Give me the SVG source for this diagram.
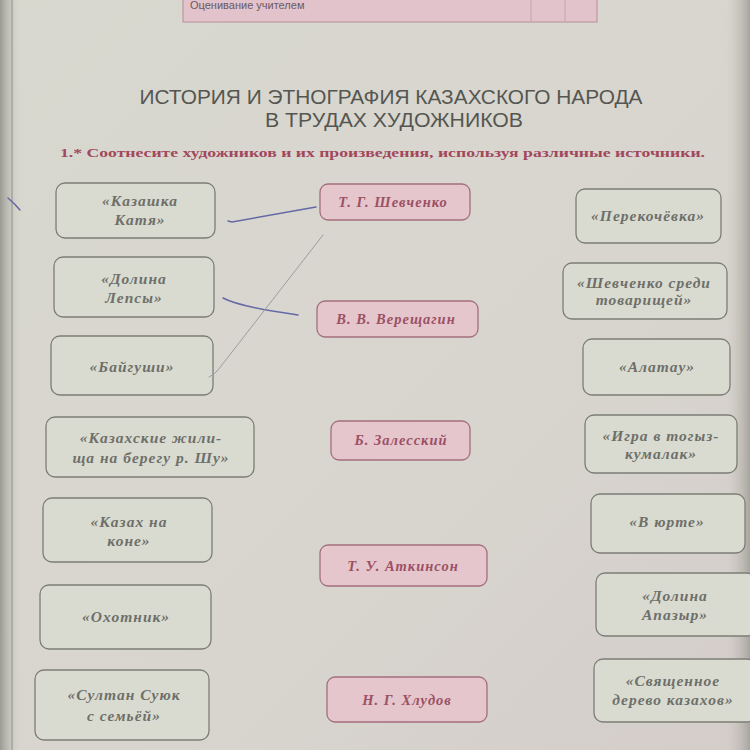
<svg xmlns="http://www.w3.org/2000/svg" width="750" height="750" viewBox="0 0 750 750">
<defs>
<linearGradient id="bg" x1="0" y1="0" x2="1" y2="1">
<stop offset="0" stop-color="#d8d8cf"/>
<stop offset="0.6" stop-color="#d8d5ce"/>
<stop offset="1" stop-color="#d4cdca"/>
</linearGradient>
<linearGradient id="edgeL" x1="0" y1="0" x2="1" y2="0">
<stop offset="0" stop-color="#9a9a92"/>
<stop offset="1" stop-color="#d6d6ce" stop-opacity="0"/>
</linearGradient>
<linearGradient id="edgeR" x1="0" y1="0" x2="1" y2="0">
<stop offset="0" stop-color="#d0ccc6" stop-opacity="0"/>
<stop offset="1" stop-color="#a8a49e"/>
</linearGradient>
</defs>
<style>
.work{fill:#d9dbd0;stroke:#7c7e76;stroke-width:1.3}
.artist{fill:#e4c6cc;stroke:#a46f7c;stroke-width:1.3}
.wt{font-family:"Liberation Serif",serif;font-style:italic;font-weight:bold;font-size:15.5px;letter-spacing:1px;fill:#6e6f6a;text-anchor:middle}
.at{font-family:"Liberation Serif",serif;font-style:italic;font-weight:bold;font-size:14.5px;letter-spacing:1px;fill:#9c5064;text-anchor:middle}
.pen{fill:none;stroke:#6668a6;stroke-width:1.5;stroke-linecap:round}
.pencil{fill:none;stroke:#9c9ca0;stroke-width:1;stroke-linecap:round}
</style>
<rect width="750" height="750" fill="url(#bg)"/>
<rect x="0" y="0" width="22" height="750" fill="url(#edgeL)"/>
<line x1="12" y1="0" x2="12" y2="750" stroke="#8e9088" stroke-width="1"/>
<rect x="725" y="0" width="25" height="750" fill="url(#edgeR)"/>

<g id="top-table">
<rect x="183" y="-4" width="414" height="26" fill="#e2c3cb" stroke="#b88c98" stroke-width="1"/>
<line x1="531" y1="-4" x2="531" y2="22" stroke="#c8a2ad" stroke-width="1"/>
<line x1="565" y1="-4" x2="565" y2="22" stroke="#c8a2ad" stroke-width="1"/>
<text x="190" y="9" font-family="Liberation Sans, sans-serif" font-size="11" fill="#6a5a60">Оценивание учителем</text>
</g>

<g id="title">
<text x="391" y="104" font-family="Liberation Sans, sans-serif" font-size="20" fill="#555651" text-anchor="middle" textLength="503" lengthAdjust="spacingAndGlyphs">ИСТОРИЯ И ЭТНОГРАФИЯ КАЗАХСКОГО НАРОДА</text>
<text x="394" y="127" font-family="Liberation Sans, sans-serif" font-size="20" fill="#555651" text-anchor="middle" textLength="258" lengthAdjust="spacingAndGlyphs">В ТРУДАХ ХУДОЖНИКОВ</text>
<text x="60" y="157" font-family="Liberation Serif, serif" font-weight="bold" font-size="13.5" fill="#a2485c" textLength="645" lengthAdjust="spacingAndGlyphs">1.* Соотнесите художников и их произведения, используя различные источники.</text>
</g>

<g id="w-kazashka"><rect class="work" x="56" y="183" width="159" height="55" rx="9"/><text class="wt" x="140" y="206">«Казашка</text><text class="wt" x="140" y="225">Катя»</text></g>
<g id="w-dolina-lepsy"><rect class="work" x="54" y="257" width="160" height="60" rx="9"/><text class="wt" x="134" y="284">«Долина</text><text class="wt" x="134" y="303">Лепсы»</text></g>
<g id="w-baygushi"><rect class="work" x="51" y="336" width="162" height="59" rx="9"/><text class="wt" x="132" y="372">«Байгуши»</text></g>
<g id="w-zhilishcha"><rect class="work" x="46" y="417" width="208" height="60" rx="9"/><text class="wt" x="151" y="443">«Казахские жили-</text><text class="wt" x="151" y="463">ща на берегу р. Шу»</text></g>
<g id="w-kazakh-na-kone"><rect class="work" x="43" y="498" width="169" height="64" rx="9"/><text class="wt" x="129" y="527">«Казах на</text><text class="wt" x="129" y="546">коне»</text></g>
<g id="w-okhotnik"><rect class="work" x="40" y="585" width="171" height="64" rx="9"/><text class="wt" x="126" y="622">«Охотник»</text></g>
<g id="w-sultan"><rect class="work" x="35" y="670" width="174" height="70" rx="9"/><text class="wt" x="124" y="700">«Султан Суюк</text><text class="wt" x="124" y="721">с семьёй»</text></g>

<g id="a-shevchenko"><rect class="artist" x="320" y="184" width="150" height="36" rx="8"/><text class="at" x="393" y="207">Т. Г. Шевченко</text></g>
<g id="a-vereshchagin"><rect class="artist" x="317" y="301" width="161" height="36" rx="8"/><text class="at" x="396" y="324">В. В. Верещагин</text></g>
<g id="a-zalessky"><rect class="artist" x="331" y="421" width="139" height="39" rx="8"/><text class="at" x="401" y="445">Б. Залесский</text></g>
<g id="a-atkinson"><rect class="artist" x="320" y="545" width="167" height="41" rx="8"/><text class="at" x="403" y="571">Т. У. Аткинсон</text></g>
<g id="a-khludov"><rect class="artist" x="327" y="677" width="160" height="45" rx="8"/><text class="at" x="407" y="705">Н. Г. Хлудов</text></g>

<g id="w-perekochevka"><rect class="work" x="576" y="189" width="145" height="54" rx="9"/><text class="wt" x="648" y="221">«Перекочёвка»</text></g>
<g id="w-shevchenko-sredi"><rect class="work" x="563" y="263" width="164" height="56" rx="9"/><text class="wt" x="644" y="288">«Шевченко среди</text><text class="wt" x="644" y="305">товарищей»</text></g>
<g id="w-alatau"><rect class="work" x="583" y="339" width="147" height="56" rx="9"/><text class="wt" x="657" y="372">«Алатау»</text></g>
<g id="w-togyz"><rect class="work" x="585" y="415" width="152" height="58" rx="9"/><text class="wt" x="661" y="441">«Игра в тогыз-</text><text class="wt" x="661" y="459">кумалак»</text></g>
<g id="w-v-yurte"><rect class="work" x="591" y="494" width="154" height="59" rx="9"/><text class="wt" x="667" y="527">«В юрте»</text></g>
<g id="w-apazyr"><rect class="work" x="596" y="573" width="160" height="63" rx="9"/><text class="wt" x="675" y="601">«Долина</text><text class="wt" x="675" y="620">Апазыр»</text></g>
<g id="w-svyashchennoe"><rect class="work" x="594" y="659" width="162" height="63" rx="9"/><text class="wt" x="673" y="686">«Священное</text><text class="wt" x="673" y="705">дерево казахов»</text></g>

<g id="connectors">
<path class="pen" d="M316 207 L232 222 L228 221"/>
<path class="pen" d="M223 298 Q240 307 298 315"/>
<path class="pencil" d="M323 235 L218 370 Q214 375 209 377"/>
<path class="pen" d="M8 198 Q15 204 20 210" stroke-width="1.2"/>
</g>
</svg>
